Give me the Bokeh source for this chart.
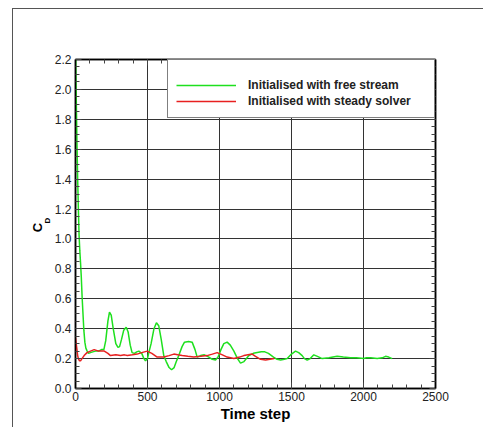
from bokeh.plotting import figure
from bokeh.models import (Legend, LegendItem, LinearAxis, FixedTicker,
                          PrintfTickFormatter, Range1d)
from bokeh.embed import file_html
from bokeh.resources import INLINE

# --- data -------------------------------------------------------------
free_x = [0, 5, 10, 15, 20, 25, 30, 35, 40, 46, 52, 58, 65, 72, 81, 90, 104, 120,
          140, 160, 180, 197, 210, 225, 236, 248, 262, 280, 295, 306, 320, 335,
          352, 365, 380, 393, 410, 425, 440, 460, 475, 486, 500, 509, 525, 545,
          562, 578, 595, 613, 630, 650, 667, 685, 700, 717, 740, 757, 785, 810,
          830, 845, 868, 895, 926, 950, 972, 990, 1010, 1030, 1053, 1075, 1100,
          1125, 1146, 1170, 1204, 1235, 1262, 1290, 1315, 1340, 1375, 1400, 1424,
          1450, 1470, 1500, 1528, 1550, 1574, 1590, 1609, 1630, 1655, 1680, 1713,
          1760, 1817, 1860, 1910, 1950, 2002, 2020, 2050, 2095, 2130, 2153, 2175,
          2199]
free_y = [2.30, 1.95, 1.65, 1.40, 1.20, 1.02, 0.92, 0.84, 0.75, 0.61, 0.50, 0.39,
          0.31, 0.27, 0.25, 0.235, 0.24, 0.245, 0.25, 0.25, 0.26, 0.26, 0.32, 0.45,
          0.51, 0.49, 0.40, 0.30, 0.275, 0.28, 0.33, 0.39, 0.41, 0.38, 0.29, 0.24,
          0.235, 0.245, 0.25, 0.235, 0.20, 0.185, 0.20, 0.24, 0.30, 0.40, 0.44,
          0.42, 0.33, 0.22, 0.18, 0.14, 0.125, 0.14, 0.18, 0.22, 0.28, 0.31, 0.315,
          0.31, 0.26, 0.21, 0.22, 0.225, 0.21, 0.195, 0.19, 0.21, 0.26, 0.30, 0.31,
          0.29, 0.25, 0.20, 0.17, 0.18, 0.22, 0.235, 0.24, 0.245, 0.245, 0.235,
          0.21, 0.195, 0.19, 0.195, 0.20, 0.23, 0.25, 0.24, 0.22, 0.20, 0.19, 0.20,
          0.225, 0.215, 0.20, 0.205, 0.215, 0.21, 0.205, 0.205, 0.20, 0.205, 0.205,
          0.20, 0.205, 0.215, 0.21, 0.20]

steady_x = [0, 5, 10, 15, 20, 28, 35, 45, 60, 80, 104, 130, 160, 200, 225, 243,
            280, 313, 340, 360, 395, 428, 460, 498, 530, 567, 613, 650, 683, 710,
            741, 780, 822, 870, 914, 950, 984, 1020, 1053, 1100, 1140, 1169, 1227,
            1250, 1285, 1320, 1350, 1380]
steady_y = [0.34, 0.30, 0.26, 0.22, 0.20, 0.185, 0.185, 0.20, 0.22, 0.24, 0.25,
            0.26, 0.25, 0.25, 0.235, 0.22, 0.225, 0.22, 0.225, 0.22, 0.225, 0.23,
            0.24, 0.25, 0.235, 0.21, 0.21, 0.22, 0.23, 0.225, 0.22, 0.215, 0.21,
            0.215, 0.22, 0.23, 0.24, 0.225, 0.21, 0.20, 0.21, 0.22, 0.23, 0.215,
            0.195, 0.19, 0.195, 0.20]

series_labels = ["Initialised with free stream", "Initialised with steady solver"]
x_ticks = [0, 500, 1000, 1500, 2000, 2500]
y_ticks = [0.0, 0.2, 0.4, 0.6, 0.8, 1.0, 1.2, 1.4, 1.6, 1.8, 2.0, 2.2]

FONT = "Liberation Sans"
GREEN = "#1ee01e"
RED = "#e82020"
NB = "\u00a0"

p = figure(width=471, height=419, output_backend="svg", toolbar_location=None,
           x_range=Range1d(0, 2500), y_range=Range1d(0, 2.2),
           min_border_left=62, min_border_right=48, min_border_top=50,
           min_border_bottom=39, frame_width=360, frame_height=329)
p.margin = (8, 0, 0, 12)
p.styles = {"border-left": "1px solid #555", "border-top": "1px solid #555"}

p.background_fill_color = "white"
p.border_fill_color = "white"
p.outline_line_color = "black"
p.outline_line_width = 1.5

g = p.line(free_x, free_y, line_color=GREEN, line_width=1.5)
r = p.line(steady_x, steady_y, line_color=RED, line_width=1.5)

xt = FixedTicker(ticks=x_ticks, minor_ticks=list(range(0, 2501, 100)))
yt = FixedTicker(ticks=y_ticks, minor_ticks=[i * 0.05 for i in range(45)])

for ax in p.xaxis:
    ax.ticker = xt
    ax.axis_label = "Time step"
    ax.axis_label_text_font = FONT
    ax.axis_label_text_font_style = "bold"
    ax.axis_label_text_font_size = "15px"
    ax.axis_label_text_color = "black"
    ax.axis_label_standoff = 1
    ax.major_label_standoff = 3
for ax in p.yaxis:
    ax.ticker = yt
    ax.formatter = PrintfTickFormatter(format="%.1f")
    ax.major_label_standoff = 4

for ax in list(p.xaxis) + list(p.yaxis):
    ax.major_label_text_font = FONT
    ax.major_label_text_font_size = "12px"
    ax.major_label_text_color = "#222222"
    ax.axis_line_color = "black"
    ax.axis_line_width = 1.5
    ax.major_tick_in = 6
    ax.major_tick_out = 0
    ax.minor_tick_in = 4
    ax.minor_tick_out = 0
    ax.major_tick_line_color = "#444444"
    ax.minor_tick_line_color = "#444444"

# ticks on the right and top as well (labels not drawn)
ra = LinearAxis(ticker=yt, major_label_text_color=None, axis_line_color="black",
                axis_line_width=1.5, major_tick_in=6, major_tick_out=0,
                minor_tick_in=4, minor_tick_out=0, major_tick_line_color="#444444",
                minor_tick_line_color="#444444", major_label_standoff=0)
ta = LinearAxis(ticker=xt, major_label_text_color=None, axis_line_color="black",
                axis_line_width=1.5, major_tick_in=6, major_tick_out=0,
                minor_tick_in=4, minor_tick_out=0, major_tick_line_color="#444444",
                minor_tick_line_color="#444444", major_label_standoff=0)
p.add_layout(ra, "right")
p.add_layout(ta, "above")

# y axis label C_D : subscript D (closer to the axis), then C
def label_axis(text, size, standoff):
    return LinearAxis(ticker=FixedTicker(ticks=[]), axis_line_color=None,
                      major_tick_in=0, major_tick_out=0, minor_tick_in=0,
                      minor_tick_out=0, major_label_standoff=0,
                      axis_label=text, axis_label_text_font=FONT,
                      axis_label_text_font_style="bold",
                      axis_label_text_font_size=size,
                      axis_label_text_color="black",
                      axis_label_standoff=standoff)

p.add_layout(label_axis(NB * 3 + "D", "8px", 0), "left")
p.add_layout(label_axis("C" + NB * 2, "13px", -5), "left")

p.xgrid.ticker = xt
p.ygrid.ticker = yt
for gr in list(p.xgrid) + list(p.ygrid):
    gr.grid_line_color = "#333333"
    gr.grid_line_width = 1

legend = Legend(items=[LegendItem(label=series_labels[0], renderers=[g]),
                       LegendItem(label=series_labels[1], renderers=[r])],
                location=(92, 270), title=" ", title_text_font_size="8px",
                title_standoff=0, padding=8, spacing=0, margin=0,
                glyph_width=60, glyph_height=16, label_height=16,
                label_width=178, label_standoff=12,
                label_text_font=FONT, label_text_font_style="bold",
                label_text_font_size="12px", label_text_color="#222222",
                border_line_color="black", border_line_width=1.5,
                background_fill_alpha=1.0)
p.add_layout(legend, "center")

open("out.html", "w").write(file_html(p, INLINE))
